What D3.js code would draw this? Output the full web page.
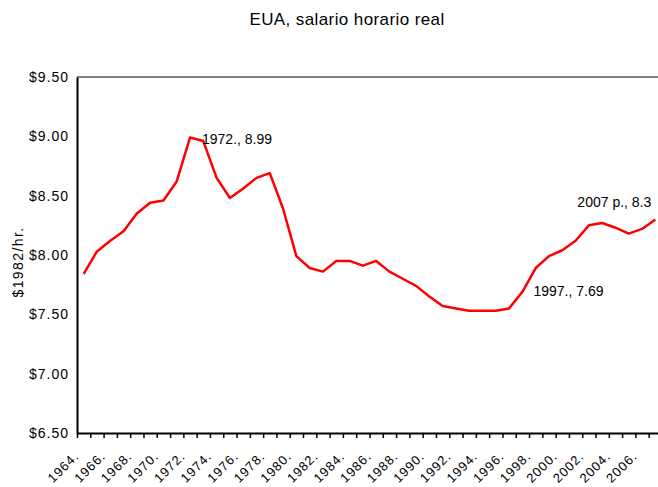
<!DOCTYPE html>
<html>
<head>
<meta charset="utf-8">
<script src="https://cdn.jsdelivr.net/npm/d3@7"></script>
<style>
  body { margin: 0; background: #fff; }
  svg { display: block; font-family: Arial, "Liberation Sans", sans-serif; }
</style>
</head>
<body>
<div id="chart"></div>
<script>
// data
const years = d3.range(1964, 2008);
const wages = [7.84, 8.03, 8.12, 8.20, 8.35, 8.44, 8.46, 8.62, 8.99, 8.96,
               8.65, 8.48, 8.56, 8.65, 8.69, 8.39, 7.99, 7.89, 7.86, 7.95,
               7.95, 7.91, 7.95, 7.86, 7.80, 7.74, 7.65, 7.57, 7.55, 7.53,
               7.53, 7.53, 7.55, 7.69, 7.89, 7.99, 8.04, 8.12, 8.25, 8.27,
               8.23, 8.18, 8.22, 8.30];
const yTicks = [6.5, 7.0, 7.5, 8.0, 8.5, 9.0, 9.5];
const notes = [
  {year: 1972, value: 8.99, text: "1972., 8.99", dx: 12, dy: 6},
  {year: 1997, value: 7.69, text: "1997., 7.69", dx: 11, dy: 4},
  {year: 2007, value: 8.30, text: "2007 p., 8.3", dx: -78, dy: -12}
];

const W = 658, H = 487;
const margin = {top: 77, left: 77, bottom: 54};
const plotW = 585;

const svg = d3.select("#chart").append("svg")
    .attr("width", W)
    .attr("height", H);

const x = d3.scaleBand()
    .domain(years)
    .range([margin.left, margin.left + plotW]);
const xEdge = d3.scaleLinear()
    .domain([0, years.length])
    .range([margin.left, margin.left + plotW]);
const y = d3.scaleLinear()
    .domain([6.5, 9.5])
    .range([H - margin.bottom, margin.top]);

const cx = d => x(d) + x.bandwidth() / 2;

// title
svg.append("text")
    .attr("x", 347)
    .attr("y", 25)
    .attr("text-anchor", "middle")
    .attr("font-size", "17px")
    .attr("letter-spacing", "0.4px")
    .text("EUA, salario horario real");

// top gray gridline
svg.append("line")
    .attr("x1", margin.left).attr("x2", margin.left + plotW)
    .attr("y1", y(9.5)).attr("y2", y(9.5))
    .attr("stroke", "#808080")
    .attr("stroke-width", 2);

// y axis
const yAxis = svg.append("g")
    .attr("transform", "translate(" + margin.left + ",0)")
    .call(d3.axisLeft(y).tickValues(yTicks).tickSize(0).tickPadding(8)
        .tickFormat(d => "$" + d.toFixed(2)));
yAxis.select(".domain").attr("stroke", "#000").attr("stroke-width", 2);
yAxis.selectAll("text").attr("font-size", "14px").attr("fill", "#000")
    .attr("letter-spacing", "1px")
    .attr("font-family", "Arial, 'Liberation Sans', sans-serif");

// x axis: ticks on category boundaries
const xAxis = svg.append("g")
    .attr("transform", "translate(0," + y(6.5) + ")")
    .call(d3.axisBottom(xEdge).tickValues(d3.range(years.length + 1))
        .tickSize(5).tickSizeOuter(0).tickFormat(""));
xAxis.select(".domain").attr("stroke", "#000").attr("stroke-width", 2);
xAxis.selectAll(".tick line").attr("stroke", "#000").attr("stroke-width", 1.5);

// rotated year labels every 2 years
svg.append("g").selectAll("text")
    .data(years.filter(d => d % 2 === 0))
    .join("text")
    .attr("transform", d => "translate(" + (cx(d) - 4) + "," + (y(6.5) + 24) + ") rotate(-45)")
    .attr("text-anchor", "end")
    .attr("font-size", "13px")
    .attr("letter-spacing", "1px")
    .text(d => d + ".");

// y axis title
svg.append("text")
    .attr("transform", "translate(23,262) rotate(-90)")
    .attr("text-anchor", "middle")
    .attr("font-size", "14px")
    .attr("letter-spacing", "1.4px")
    .text("$1982/hr.");

// line
const line = d3.line()
    .x((d, i) => cx(years[i]))
    .y(d => y(d));

svg.append("path")
    .datum(wages)
    .attr("fill", "none")
    .attr("stroke", "#ff0000")
    .attr("stroke-width", 2.5)
    .attr("stroke-linejoin", "round")
    .attr("d", line);

// data labels
svg.append("g").selectAll("text")
    .data(notes)
    .join("text")
    .attr("x", d => cx(d.year) + d.dx)
    .attr("y", d => y(d.value) + d.dy)
    .attr("font-size", "14px")
    .text(d => d.text);
</script>
</body>
</html>
